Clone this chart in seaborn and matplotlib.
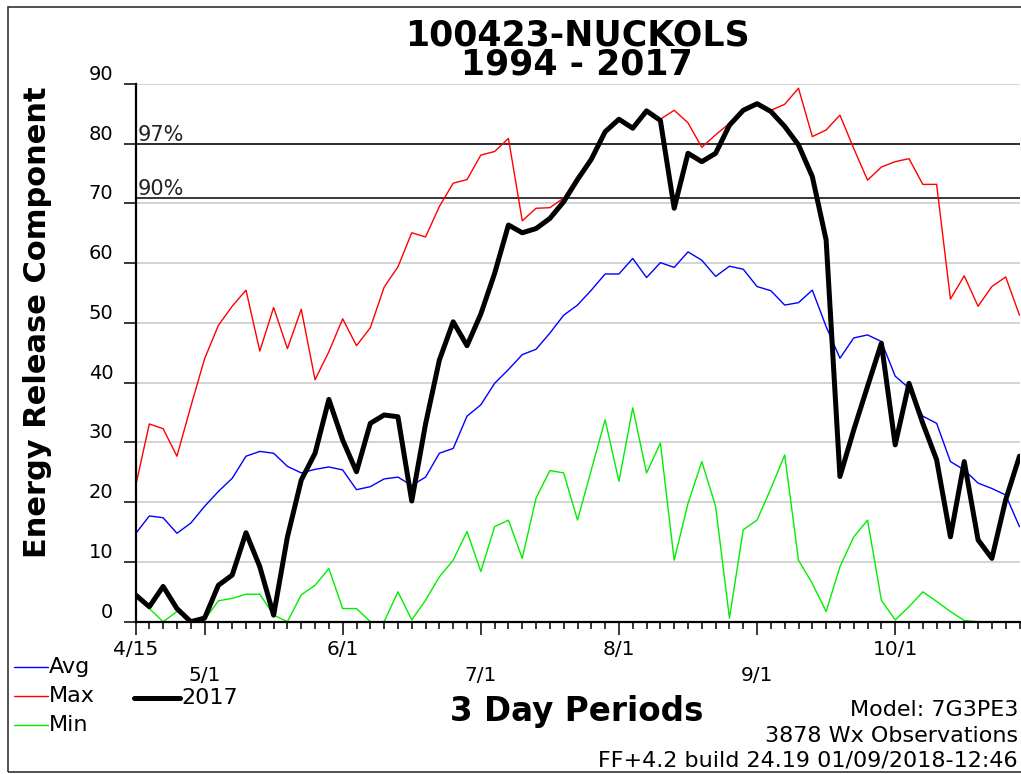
import numpy as np
import pandas as pd
import matplotlib
matplotlib.use("Agg")
import matplotlib.pyplot as plt
import seaborn as sns
from matplotlib.lines import Line2D
from matplotlib.patches import Rectangle

# 3 day periods from 4/15 to the end of October
periods = np.arange(65)

avg = [14.7, 17.7, 17.4, 14.8, 16.5, 19.3, 21.8, 24.0, 27.7, 28.5,
       28.2, 26.0, 24.9, 25.5, 25.9, 25.4, 22.1, 22.6, 23.9, 24.2,
       22.8, 24.2, 28.2, 29.0, 34.4, 36.3, 39.9, 42.2, 44.7, 45.6,
       48.3, 51.3, 53.0, 55.5, 58.2, 58.2, 60.8, 57.6, 60.1, 59.3,
       61.9, 60.5, 57.8, 59.5, 59.0, 56.1, 55.4, 53.0, 53.4, 55.5,
       49.4, 44.1, 47.5, 48.0, 46.9, 41.1, 39.1, 34.4, 33.2, 26.8,
       25.4, 23.2, 22.3, 21.2, 15.9]

mx = [22.6, 33.1, 32.3, 27.7, 36.0, 44.0, 49.6, 52.8, 55.5, 45.3,
      52.6, 45.7, 52.3, 40.5, 45.2, 50.7, 46.2, 49.2, 56.0, 59.4,
      65.1, 64.4, 69.5, 73.4, 74.0, 78.1, 78.7, 80.9, 67.1, 69.2,
      69.3, 70.9, 74.5, 77.4, 82.0, 84.1, 82.6, 85.5, 84.1, 85.6,
      83.5, 79.4, 81.5, 83.4, 85.8, 86.8, 85.6, 86.6, 89.3, 81.2,
      82.3, 84.8, 79.2, 73.9, 76.1, 77.0, 77.5, 73.2, 73.2, 54.0,
      57.9, 52.8, 56.1, 57.7, 51.3]

mn = [4.5, 2.2, 0.0, 1.7, 0.0, 0.3, 3.5, 3.9, 4.6, 4.6,
      1.1, 0.0, 4.5, 6.1, 8.9, 2.2, 2.2, 0.0, 0.0, 5.0,
      0.3, 3.6, 7.5, 10.3, 15.1, 8.4, 15.9, 17.0, 10.6, 20.7,
      25.3, 24.9, 17.0, 25.4, 33.8, 23.5, 35.8, 24.9, 29.9, 10.3,
      19.8, 26.8, 19.3, 0.6, 15.4, 17.0, 22.3, 27.9, 10.3, 6.4,
      1.7, 9.2, 14.2, 17.0, 3.6, 0.3, 2.5, 5.0, 3.4, 1.7,
      0.2, 0.0, 0.0, 0.0, 0.0]

y2017 = [4.5, 2.5, 5.9, 2.2, 0.0, 0.6, 6.1, 7.8, 14.9, 9.2,
         1.1, 14.2, 23.7, 28.2, 37.2, 30.4, 25.1, 33.2, 34.6, 34.3,
         20.2, 33.1, 43.8, 50.2, 46.2, 51.5, 58.3, 66.4, 65.1, 65.8,
         67.5, 70.3, 74.0, 77.4, 82.0, 84.1, 82.6, 85.5, 83.9, 69.2,
         78.4, 77.0, 78.4, 83.1, 85.6, 86.7, 85.4, 82.9, 79.8, 74.5,
         63.9, 24.3, 32.1, 39.4, 46.6, 29.6, 39.9, 33.2, 27.1, 14.2,
         26.8, 13.7, 10.6, 20.4, 27.7]

month_ticks = [0, 5, 15, 25, 35, 45, 55]
month_labels = ["4/15", "5/1", "6/1", "7/1", "8/1", "9/1", "10/1"]

pct_levels = [80, 71]
pct_labels = ["97%", "90%"]

df = pd.DataFrame({"Period": periods, "Avg": avg, "Max": mx, "Min": mn, "2017": y2017})

sns.set_style("white")
plt.rcParams["font.family"] = ["DejaVu Sans"]
plt.rcParams["text.color"] = "black"
plt.rcParams["xtick.color"] = "black"
plt.rcParams["ytick.color"] = "black"
plt.rcParams["xtick.labelcolor"] = "black"
plt.rcParams["ytick.labelcolor"] = "black"

W, H = 1021, 774
fig = plt.figure(figsize=(W / 100, H / 100), dpi=100)
ax = fig.add_axes([135.5 / W, 1 - 621.7 / H, (1019.5 - 135.5) / W, (621.7 - 84) / H])

sns.lineplot(data=df, x="Period", y="Avg", color="#0000ff", linewidth=1.0, ax=ax)
sns.lineplot(data=df, x="Period", y="Max", color="#ff0000", linewidth=1.0, ax=ax)
sns.lineplot(data=df, x="Period", y="Min", color="#00ee00", linewidth=1.0, ax=ax)
sns.lineplot(data=df, x="Period", y="2017", color="black", linewidth=3.6, ax=ax,
             solid_joinstyle="round")

for lvl, lab in zip(pct_levels, pct_labels):
    ax.axhline(lvl, color="black", linewidth=1.1, zorder=1)
    ax.annotate(lab, (0, lvl), xytext=(1.5, -1), textcoords="offset points",
                fontsize=15, va="bottom", ha="left", color="#222222")

ax.set_xlim(0, 64)
ax.set_ylim(0, 90)
ax.set_yticks(range(0, 91, 10))
ax.set_yticklabels([str(v) for v in range(0, 91, 10)], fontsize=14, va="bottom")
ax.yaxis.grid(True, color="#cccccc", linewidth=1.2)
ax.set_axisbelow(True)

ax.set_xticks(month_ticks)
xl = [lab if i % 2 == 0 else "\n" + lab for i, lab in enumerate(month_labels)]
ax.set_xticklabels(xl, fontsize=14.5, linespacing=1.5)
ax.set_xticks(periods, minor=True)
ax.tick_params(axis="x", which="major", length=9, width=1.1, color="black", pad=4, direction="out", bottom=True)
ax.tick_params(axis="x", which="minor", length=5, width=1.1, color="black", direction="out", bottom=True)
ax.tick_params(axis="y", which="major", length=9, width=1.1, color="black", pad=7, direction="out", left=True)

for s in ["top", "right"]:
    ax.spines[s].set_visible(False)
ax.spines["left"].set_linewidth(1.6)
ax.spines["left"].set_color("black")
ax.spines["bottom"].set_linewidth(1.6)
ax.spines["bottom"].set_color("black")
ax.set_xlabel("")
ax.set_ylabel("")

# titles and labels
fig.text(577 / W, 1 - 50 / H, "100423-NUCKOLS\n1994 - 2017", fontsize=25, fontweight="bold",
         ha="center", va="center", linespacing=0.78)
fig.text(38 / W, 1 - 322 / H, "Energy Release Component", fontsize=22, fontweight="bold",
         rotation=90, ha="center", va="center")
fig.text(577 / W, 1 - 711 / H, "3 Day Periods", fontsize=23.5, fontweight="bold", ha="center", va="center")

fig.text(1018 / W, 1 - 710 / H, "Model: 7G3PE3", fontsize=16, ha="right", va="center")
fig.text(1018 / W, 1 - 736 / H, "3878 Wx Observations", fontsize=16, ha="right", va="center")
fig.text(1018 / W, 1 - 760 / H, "FF+4.2 build 24.19 01/09/2018-12:46", fontsize=16, ha="right", va="center")

# legend
leg = [("Avg", "#0000ff", 1.0, 14, 48, 667), ("Max", "#ff0000", 1.0, 14, 48, 696),
       ("Min", "#00ee00", 1.0, 14, 48, 725), ("2017", "black", 3.6, 134, 180, 698)]
for lab, col, lw, x0, x1, yy in leg:
    fig.add_artist(Line2D([x0 / W, x1 / W], [1 - yy / H, 1 - yy / H], color=col, linewidth=lw))
    fig.text((x1 + 1) / W, 1 - yy / H, lab, fontsize=16, ha="left", va="center")

fig.add_artist(Rectangle((8 / W, 1 - 772 / H), (W + 20) / W, (772 - 7) / H, fill=False,
                         edgecolor="#333333", linewidth=1.2, transform=fig.transFigure))

fig.savefig("out.png", dpi=100)
